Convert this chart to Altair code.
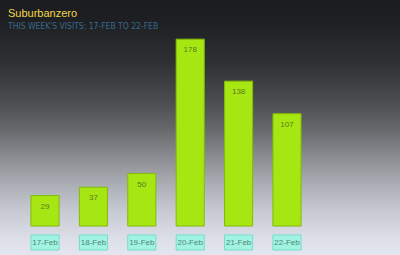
import altair as alt
import pandas as pd

dates = ["17-Feb", "18-Feb", "19-Feb", "20-Feb", "21-Feb", "22-Feb"]
visits = [29, 37, 50, 178, 138, 107]
title_text = "Suburbanzero"
subtitle_text = "THIS WEEK'S VISITS: 17-FEB TO 22-FEB"

df = pd.DataFrame({"date": dates, "visits": visits})
one = pd.DataFrame({"k": [0]})

W, H = 400, 255

xscale = alt.Scale(domain=dates, range=[20.8, 311.2], paddingInner=0.42, paddingOuter=0.21)
yscale = alt.Scale(domain=[-27.6, 215.3], nice=False, zero=False)

X = alt.X("date:N", scale=xscale, axis=None, sort=dates)
Y = alt.Y("visits:Q", scale=yscale, axis=None)

grad = alt.Gradient(
    gradient="linear", x1=0, x2=0, y1=0, y2=1,
    stops=[
        alt.GradientStop(color="#1b1c20", offset=0),
        alt.GradientStop(color="#1e1f23", offset=0.08),
        alt.GradientStop(color="#2f3135", offset=0.25),
        alt.GradientStop(color="#4b4d51", offset=0.4),
        alt.GradientStop(color="#64666a", offset=0.5),
        alt.GradientStop(color="#85878c", offset=0.6),
        alt.GradientStop(color="#a5a7ae", offset=0.7),
        alt.GradientStop(color="#c5c8d0", offset=0.82),
        alt.GradientStop(color="#dde0e9", offset=0.94),
        alt.GradientStop(color="#e3e6ee", offset=1),
    ],
)

bg = alt.Chart(one).mark_rect(fill=grad, strokeWidth=0).encode(
    x=alt.value(0), x2=alt.value(W), y=alt.value(0), y2=alt.value(H)
)

bars = alt.Chart(df).mark_bar(fill="#a6e612", stroke="#84ba08", strokeWidth=1).encode(
    x=X, y=Y, y2=alt.value(231)
)

vals = alt.Chart(df).mark_text(
    baseline="middle", dy=11, fontSize=8, font="Liberation Sans", color="#5e7a20"
).encode(x=X, y=Y, text="visits:Q")

boxes = alt.Chart(df).mark_rect(fill="#a2f4e2", stroke="#74dcc8", strokeWidth=1).encode(
    x=X, y=alt.value(235), y2=alt.value(250)
)

labels = alt.Chart(df).mark_text(
    baseline="middle", fontSize=8, font="Liberation Sans", color="#4f8478"
).encode(x=X, y=alt.value(243), text="date:N")

title = alt.Chart(one).mark_text(
    align="left", baseline="alphabetic", fontSize=11, font="Liberation Sans",
    color="#f2d64a", text=title_text
).encode(x=alt.value(8), y=alt.value(17))

subtitle = alt.Chart(one).mark_text(
    align="left", baseline="alphabetic", fontSize=8.5,
    font="Liberation Sans Narrow, DejaVu Sans Condensed, Liberation Sans",
    color="#3a6888", text=subtitle_text
).encode(x=alt.value(8), y=alt.value(29))

chart = alt.layer(bg, bars, vals, boxes, labels, title, subtitle).properties(
    width=W, height=H, padding=0, autosize=alt.AutoSizeParams(type="none"),
    background="#e3e6ee"
).configure_view(stroke=None)

chart.save("out.html", embed_options={"renderer": "svg", "actions": False})
